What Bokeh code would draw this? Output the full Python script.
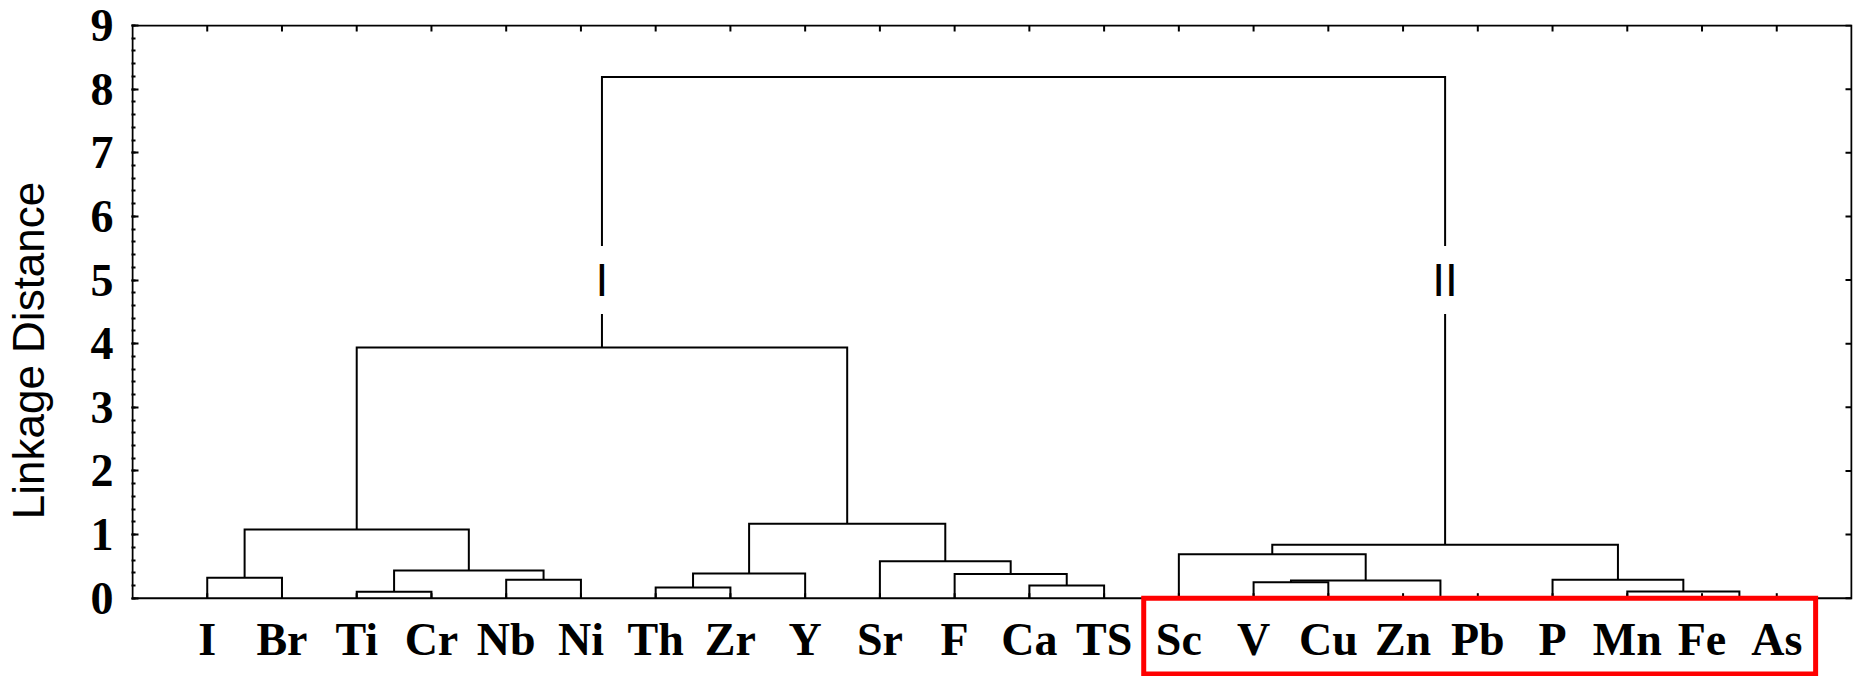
from bokeh.plotting import figure
from bokeh.models import (Range1d, FixedTicker, LinearAxis, Label, ColumnDataSource)
from bokeh.embed import file_html
from bokeh.resources import INLINE
from bokeh.core.properties import value

# Leaves of the tree, in the order they are laid out along the x axis
elements = ["I", "Br", "Ti", "Cr", "Nb", "Ni", "Th", "Zr", "Y", "Sr", "F", "Ca", "TS",
            "Sc", "V", "Cu", "Zn", "Pb", "P", "Mn", "Fe", "As"]

# Agglomeration schedule: ids 0..21 are leaves, step k creates cluster id 22 + k
join_left = [16, 20, 2, 19, 6, 11, 14, 28, 18, 4, 0, 10, 26, 24, 9, 13, 37, 32, 34, 39, 41]
join_right = [17, 21, 3, 23, 7, 12, 15, 22, 25, 5, 1, 27, 8, 31, 33, 29, 30, 35, 36, 40, 38]
join_height = [0.02, 0.02, 0.10, 0.105, 0.17, 0.20, 0.25, 0.28, 0.29, 0.29, 0.32, 0.38,
               0.39, 0.435, 0.58, 0.69, 0.84, 1.08, 1.17, 3.94, 8.19]

# Named clusters and the cluster id they label
group_names = ["I", "II"]
group_nodes = [41, 38]

# Distance axis ticks
y_major = list(range(10))
y_minor = [round(0.2 * i, 1) for i in range(46)]

# Elements framed as a highlighted group
highlight_first, highlight_last = "Sc", "As"

n = len(elements)
pos = {i: float(i + 1) for i in range(n)}
hgt = {i: 0.0 for i in range(n)}
xs, ys = [], []
for k, (a, b, h) in enumerate(zip(join_left, join_right, join_height)):
    xa, xb = pos[a], pos[b]
    xs.append([xa, xa, xb, xb])
    ys.append([hgt[a], h, h, hgt[b]])
    pos[n + k] = (xa + xb) / 2.0
    hgt[n + k] = h

# Page geometry: the plotting box spans x 0..n+1 and y 0..9; the frame reaches the
# bottom of the page so the element names and their highlight can be drawn in data space.
W, H = 1854, 676
box_left, box_right, box_top, box_bottom = 131, 1851, 25, 597.7
ppx = (box_right - box_left) / (n + 1)
ppy = (box_bottom - box_top) / 9.0
x_lo = -1.0 / ppx
x_hi = (n + 1) + 1.0 / ppx
y_hi = 9 + 1.0 / ppy
y_lo = -(H - box_bottom) / ppy

p = figure(width=W, height=H, output_backend="svg", toolbar_location=None,
           x_range=Range1d(x_lo, x_hi), y_range=Range1d(y_lo, y_hi),
           x_axis_location=None, y_axis_location=None,
           min_border_left=box_left - 1, min_border_right=W - box_right - 1,
           min_border_top=box_top - 1, min_border_bottom=0)
p.outline_line_color = None
p.grid.visible = False
p.background_fill_color = "white"
p.border_fill_color = "white"

TICK_FONT = "Liberation Serif"

# left axis with distance values
left = LinearAxis(ticker=FixedTicker(ticks=y_major, minor_ticks=y_minor))
left.axis_line_color = None
left.major_tick_in = 7
left.major_tick_out = 0
left.minor_tick_in = 4
left.minor_tick_out = 0
left.major_tick_line_width = 2
left.minor_tick_line_width = 2
left.major_label_standoff = 18
left.major_label_text_font = TICK_FONT
left.major_label_text_font_style = "bold"
left.major_label_text_font_size = "46px"
left.major_label_text_color = "black"
left.axis_label = "Linkage Distance"
left.axis_label_text_font = "Liberation Sans"
left.axis_label_text_font_style = "normal"
left.axis_label_text_font_size = "44px"
left.axis_label_text_color = "black"
left.axis_label_standoff = 35
p.add_layout(left, "left")

# plotting box
p.quad(left=[0], right=[n + 1], bottom=[0], top=[9], fill_color=None,
       line_color="black", line_width=2, line_join="miter")

# tick marks on the inside of the box
leaf_x = [pos[i] for i in range(n)]
p.ray(x=leaf_x, y=[0] * n, length=5, length_units="screen", angle=90,
      angle_units="deg", line_color="black", line_width=2)
p.ray(x=leaf_x, y=[9] * n, length=6, length_units="screen", angle=-90,
      angle_units="deg", line_color="black", line_width=2)
p.ray(x=[n + 1] * len(y_major), y=y_major, length=6, length_units="screen", angle=180,
      angle_units="deg", line_color="black", line_width=2)

# dendrogram links
src = ColumnDataSource(dict(xs=xs, ys=ys))
p.multi_line(xs="xs", ys="ys", source=src, line_color="black", line_width=2,
             line_join="miter", line_cap="butt")

# element names under the leaves
p.text(x=leaf_x, y=[0] * n, text=elements, y_offset=41, text_align="center",
       text_baseline="alphabetic", text_font=value(TICK_FONT), text_font_style="bold",
       text_font_size="46px", text_color="black")

# cluster names written across their stems
for name, node in zip(group_names, group_nodes):
    p.add_layout(Label(x=pos[node], y=5.0, text=name, text_align="center",
                       text_baseline="middle", text_font="Liberation Sans",
                       text_font_size="46px", text_color="black",
                       background_fill_color="white", padding=8))

# frame around the highlighted group of elements
i0 = elements.index(highlight_first)
i1 = elements.index(highlight_last)
p.quad(left=[pos[i0] - 0.47], right=[pos[i1] + 0.52], top=[0], bottom=[-1.19],
       fill_color=None, line_color="red", line_width=5, line_join="miter")

open("out.html", "w").write(file_html(p, INLINE))
